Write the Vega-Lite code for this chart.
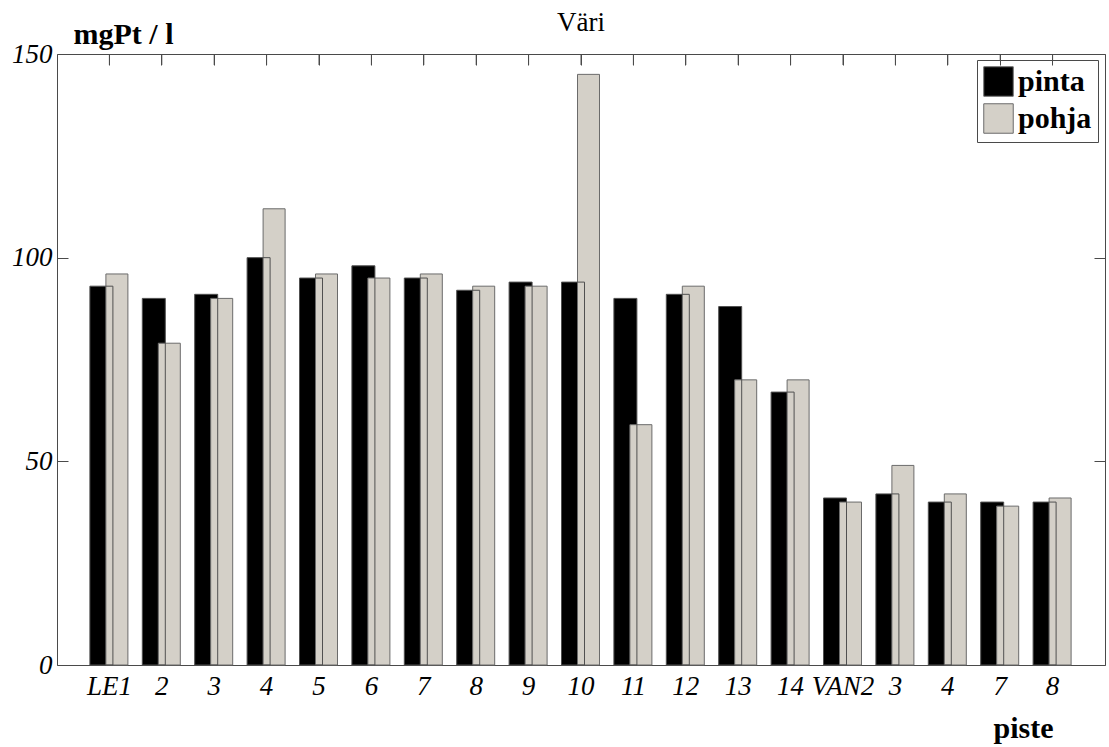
{
  "$schema": "https://vega.github.io/schema/vega-lite/v6.json",
  "width": 1048,
  "height": 611,
  "autosize": {"type": "none"},
  "padding": {"left": 57, "top": 54, "right": 4, "bottom": 82},
  "background": "white",
  "title": {
    "text": "Väri",
    "font": "Liberation Serif",
    "fontSize": 27,
    "fontWeight": "normal",
    "color": "black",
    "anchor": "middle",
    "baseline": "alphabetic",
    "offset": 0,
    "dy": 39
  },
  "config": {
    "view": {"stroke": "#4a4a4a", "strokeWidth": 1},
    "axis": {
      "domain": false,
      "grid": false,
      "labelFont": "Liberation Serif",
      "labelFontStyle": "italic",
      "labelFontSize": 27,
      "labelColor": "black",
      "tickColor": "#4a4a4a",
      "tickWidth": 1
    }
  },
  "data": {
    "values": [
      {"piste": "LE1", "pinta": 93, "pohja": 96},
      {"piste": "2", "pinta": 90, "pohja": 79},
      {"piste": "3", "pinta": 91, "pohja": 90},
      {"piste": "4", "pinta": 100, "pohja": 112},
      {"piste": "5", "pinta": 95, "pohja": 96},
      {"piste": "6", "pinta": 98, "pohja": 95},
      {"piste": "7", "pinta": 95, "pohja": 96},
      {"piste": "8", "pinta": 92, "pohja": 93},
      {"piste": "9", "pinta": 94, "pohja": 93},
      {"piste": "10", "pinta": 94, "pohja": 145},
      {"piste": "11", "pinta": 90, "pohja": 59},
      {"piste": "12", "pinta": 91, "pohja": 93},
      {"piste": "13", "pinta": 88, "pohja": 70},
      {"piste": "14", "pinta": 67, "pohja": 70},
      {"piste": "VAN2", "pinta": 41, "pohja": 40},
      {"piste": "VAN2-3", "pinta": 42, "pohja": 49},
      {"piste": "VAN2-4", "pinta": 40, "pohja": 42},
      {"piste": "VAN2-7", "pinta": 40, "pohja": 39},
      {"piste": "VAN2-8", "pinta": 40, "pohja": 41}
    ]
  },
  "transform": [{"fold": ["pinta", "pohja"], "as": ["syvyys", "arvo"]}],
  "layer": [
    {
      "transform": [{"filter": "datum.syvyys === 'pinta'"}],
      "mark": {"type": "bar", "width": 23, "xOffset": -8, "strokeWidth": 0},
      "encoding": {
        "x": {
          "field": "piste",
          "type": "nominal",
          "sort": null,
          "scale": {"paddingInner": 0, "paddingOuter": 0.5},
          "axis": {
            "orient": "bottom",
            "title": "piste",
            "titleFont": "Liberation Serif",
            "titleFontSize": 30,
            "titleFontWeight": "bold",
            "titleColor": "black",
            "titleAngle": 0,
            "titleAlign": "center",
            "titleBaseline": "alphabetic",
            "titleX": 966,
            "titleY": 72,
            "labelAngle": 0,
            "labelPadding": 8,
            "ticks": false,
            "labelExpr": "replace(datum.value, 'VAN2-', '')"
          }
        },
        "y": {
          "field": "arvo",
          "type": "quantitative",
          "scale": {"domain": [0, 150], "nice": false},
          "axis": {
            "orient": "left",
            "values": [0, 50, 100, 150],
            "ticks": true,
            "tickSize": -11,
            "labelPadding": 16,
            "zindex": 1,
            "title": "mgPt / l",
            "titleFont": "Liberation Serif",
            "titleFontSize": 30,
            "titleFontWeight": "bold",
            "titleColor": "black",
            "titleAngle": 0,
            "titleAlign": "left",
            "titleBaseline": "alphabetic",
            "titleX": 16,
            "titleY": -11
          }
        },
        "color": {
          "field": "syvyys",
          "type": "nominal",
          "scale": {"domain": ["pinta", "pohja"], "range": ["#000000", "#d4d0c8"]},
          "legend": {
            "orient": "none",
            "legendX": 920,
            "legendY": 6,
            "title": null,
            "padding": 6,
            "strokeColor": "#4a4a4a",
            "fillColor": "white",
            "symbolType": "square",
            "symbolSize": 870,
            "symbolStrokeColor": "#6b6b6b",
            "symbolStrokeWidth": 1,
            "symbolOpacity": 1,
            "labelFont": "Liberation Serif",
            "labelFontSize": 30,
            "labelFontWeight": "bold",
            "labelColor": "black",
            "labelOffset": 4,
            "rowPadding": 2
          }
        }
      }
    },
    {
      "transform": [{"filter": "datum.syvyys === 'pohja'"}],
      "mark": {"type": "bar", "width": 22, "xOffset": 7.5, "stroke": "#6b6b6b", "strokeWidth": 1},
      "encoding": {
        "x": {"field": "piste", "type": "nominal", "sort": null, "axis": null},
        "y": {
          "field": "arvo",
          "type": "quantitative",
          "axis": {
            "orient": "right",
            "values": [0, 50, 100, 150],
            "labels": false,
            "ticks": true,
            "title": null,
            "zindex": 1,
            "tickSize": -11
          }
        },
        "color": {"field": "syvyys", "type": "nominal"}
      }
    },
    {
      "transform": [{"filter": "datum.syvyys === 'pinta'"}],
      "mark": {"type": "bar", "width": 23, "xOffset": -8, "fill": null, "fillOpacity": 0, "stroke": "#505050", "strokeWidth": 1},
      "encoding": {
        "x": {
          "field": "piste",
          "type": "nominal",
          "sort": null,
          "axis": {
            "orient": "top",
            "labels": false,
            "ticks": true,
            "tickBand": "center",
            "tickColor": "#4a4a4a",
            "tickOpacity": 1,
            "title": null,
            "zindex": 1,
            "tickSize": -11
          }
        },
        "y": {"field": "arvo", "type": "quantitative", "axis": null}
      }
    },
    {
      "transform": [{"filter": "datum.syvyys === 'pinta'"}],
      "mark": {"type": "rule", "stroke": "#4a4a4a", "strokeWidth": 1},
      "encoding": {
        "x": {"field": "piste", "type": "nominal", "sort": null, "axis": null},
        "y": {"datum": 150, "type": "quantitative", "axis": null},
        "y2": {"datum": 147.3}
      }
    }
  ]
}
